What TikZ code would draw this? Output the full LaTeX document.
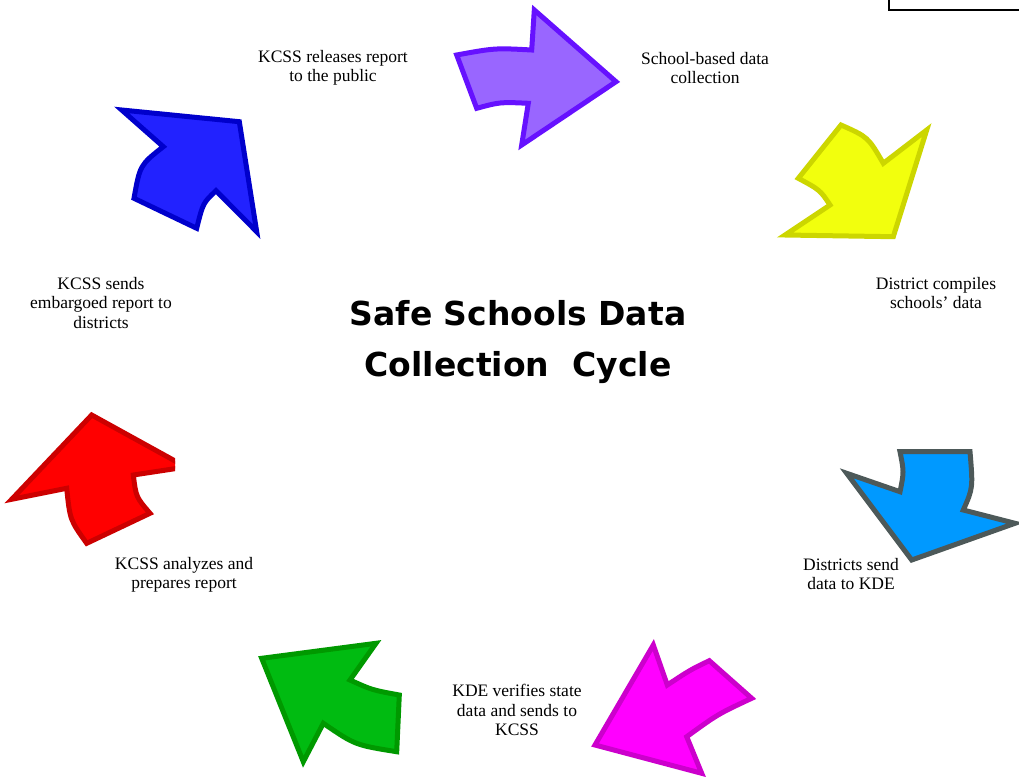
\documentclass[tikz,border=0pt]{standalone}
\usepackage{fontspec}
\setmainfont{Liberation Serif}
\newfontfamily\titlefont{DejaVu Sans}
\begin{document}
\begin{tikzpicture}[x=1pt,y=-1pt,
  arr/.style={line width=5pt, line join=miter},
  lbl/.style={font=\fontsize{17.5}{19.5}\selectfont, align=center, inner sep=0pt},
  ttl/.style={font=\titlefont\bfseries\fontsize{33}{51}\selectfont, align=center, inner sep=0pt}]
\definecolor{pfill}{HTML}{9966FF}\definecolor{pline}{HTML}{6611FF}
\definecolor{yfill}{HTML}{F2FF0D}\definecolor{yline}{HTML}{CCD600}
\definecolor{lbfill}{HTML}{0099FF}\definecolor{lbline}{HTML}{4D5959}
\definecolor{mfill}{HTML}{FF00FF}\definecolor{mline}{HTML}{CC00CC}
\definecolor{gfill}{HTML}{00BB11}\definecolor{gline}{HTML}{009900}
\definecolor{rfill}{HTML}{FF0000}\definecolor{rline}{HTML}{CC0000}
\definecolor{bfill}{HTML}{2222FF}\definecolor{bline}{HTML}{0000CC}
\useasboundingbox (0,0) rectangle (1019,776);
% top right box fragment
\draw[line width=2pt] (889,-2) -- (889,10) -- (1021,10);
% purple
\draw[arr, draw=pline, fill=pfill] (456.7,55) .. controls (495,48) .. (531.7,50) -- (534.3,10) -- (616,81.7) -- (521.7,145) -- (528.3,103.3) .. controls (500,102) .. (476.7,108.3) -- cycle;
% yellow
\draw[arr, draw=yline, fill=yfill] (841,125) .. controls (868,137) .. (883.3,163.3) -- (926.7,130) -- (893.3,236.7) -- (785,235) -- (830,205) .. controls (820,190) .. (798.3,178.3) -- cycle;
% light blue
\draw[arr, draw=lbline, fill=lbfill] (900,451.7) -- (970,451.7) .. controls (973,488) .. (963.3,510) -- (1015,523.3) -- (911.7,560) -- (846.7,473.3) -- (900,491.7) .. controls (904,472) .. (900,451.7) -- cycle;
% magenta
\draw[arr, draw=mline, fill=mfill] (653.3,645) -- (667.3,685) .. controls (690,670) .. (709.3,660.7) -- (751.7,698.3) .. controls (718,714) .. (686.7,736.7) -- (701.7,773.3) -- (595,745) -- cycle;
% green
\draw[arr, draw=gline, fill=gfill] (261.7,658.3) -- (376,643.3) -- (350,680) .. controls (372,690) .. (399.3,695) -- (396.7,751.7) .. controls (355,745) .. (323.3,723.3) -- (303.3,761.7) -- cycle;
% red (clipped at right)
\begin{scope}
\clip (0,0) rectangle (175,776);
\draw[arr, draw=rline, fill=rfill] (91.7,415) -- (186,467) -- (133.3,475) .. controls (136,497) .. (150,513.3) -- (86.7,543.3) .. controls (70,520) .. (66.7,488.3) -- (11.7,499.3) -- cycle;
\end{scope}
% dark blue
\draw[arr, draw=bline, fill=bfill] (121.7,110) -- (239.3,121.7) -- (256.7,231.7) -- (216,190.7) .. controls (203,203) .. (196.7,228.3) -- (134,198.3) .. controls (140,165) .. (163.3,146.7) -- cycle;
% labels
\node[lbl] (rel) at (333,68) {KCSS releases report\\to the public};
\node[lbl] (sch) at (705,68) {School-based data\\collection};
\node[lbl] (dst) at (936,293) {District compiles\\schools’ data};
\node[lbl] (snd) at (851,574) {Districts send\\data to KDE};
\node[lbl] (kde) at (517,710) {KDE verifies state\\data and sends to\\KCSS};
\node[lbl] (anl) at (184,575) {KCSS analyzes and\\prepares report};
\node[lbl] (emb) at (101,303) {KCSS sends\\embargoed report to\\districts};
\node[ttl] (title) at (518,342) {Safe Schools Data\\Collection\ \ Cycle};
\end{tikzpicture}
\end{document}
